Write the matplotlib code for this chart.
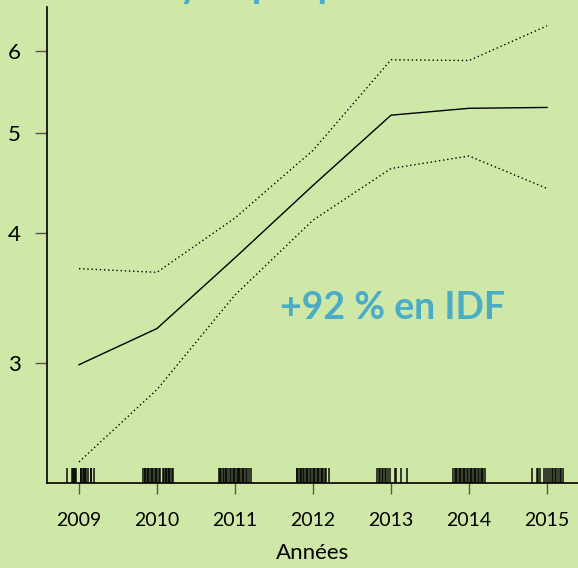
import numpy as np
import matplotlib
matplotlib.use("Agg")
import matplotlib.pyplot as plt
import matplotlib.ticker as mticker

# --- Données ---
annees = [2009, 2010, 2011, 2012, 2013, 2014, 2015]
moyenne = [2.99, 3.24, 3.79, 4.45, 5.20, 5.28, 5.29]
borne_haute = [3.70, 3.67, 4.14, 4.81, 5.88, 5.87, 6.34]
borne_basse = [2.41, 2.83, 3.49, 4.12, 4.62, 4.75, 4.42]

y_ticks = [3, 4, 5, 6]
annotation = "+92 % en IDF"
titre = "Prix moyen par pièce"

# --- Observations (rug), décalage dans l'année ---
rug_2009 = [-0.15, -0.09, -0.08, -0.06, -0.05, -0.04, 0.02, 0.03, 0.05, 0.06,
            0.08, 0.09, 0.12, 0.15, 0.16, 0.19]
rug_2010 = [-0.18, -0.16, -0.15, -0.13, -0.12, -0.10, -0.08, -0.07, -0.05, -0.03,
            -0.01, 0.0, 0.03, 0.04, 0.08, 0.09, 0.11, 0.12, 0.14, 0.15, 0.17, 0.19, 0.20]
rug_2011 = [-0.21, -0.19, -0.18, -0.16, -0.14, -0.12, -0.11, -0.09, -0.07, -0.05,
            -0.03, -0.01, 0.0, 0.02, 0.04, 0.05, 0.07, 0.09, 0.10, 0.12, 0.14,
            0.16, 0.18, 0.20]
rug_2012 = [-0.21, -0.20, -0.18, -0.16, -0.15, -0.13, -0.11, -0.09, -0.08, -0.06,
            -0.04, -0.02, 0.0, 0.01, 0.03, 0.05, 0.06, 0.08, 0.10, 0.12, 0.13,
            0.15, 0.17, 0.20]
rug_2013 = [-0.18, -0.16, -0.14, -0.11, -0.10, -0.08, -0.06, -0.04, -0.01, 0.05,
            0.07, 0.13, 0.21]
rug_2014 = [-0.20, -0.18, -0.17, -0.15, -0.13, -0.12, -0.10, -0.08, -0.06, -0.05,
            -0.03, -0.01, 0.01, 0.02, 0.04, 0.06, 0.08, 0.09, 0.11, 0.13, 0.15,
            0.17, 0.18, 0.20]
rug_2015 = [-0.19, -0.13, -0.11, -0.09, -0.04, -0.01, 0.01, 0.04, 0.06, 0.08,
            0.10, 0.12, 0.14, 0.16, 0.18, 0.20]
rugs = [rug_2009, rug_2010, rug_2011, rug_2012, rug_2013, rug_2014, rug_2015]

fond = "#cfe8a7"
bleu = "#4bacc6"
police = ["Lato", "DejaVu Sans"]

fig = plt.figure(figsize=(5.78, 5.68), dpi=100, facecolor=fond)
ax = fig.add_axes([0.0813, 0.1496, 1 - 0.0813, 0.9877 - 0.1496])
ax.set_facecolor(fond)

ax.set_yscale("log")
ax.set_xlim(2008.59, 2015.397)
ax.set_ylim(2.30, 6.61)

ax.plot(annees, moyenne, color="black", lw=1.0)
ax.plot(annees, borne_haute, color="black", lw=1.0, linestyle=(0, (1, 2)))
ax.plot(annees, borne_basse, color="black", lw=1.0, linestyle=(0, (1, 2)))

# rug
for an, decal in zip(annees, rugs):
    pos = [an + d for d in decal]
    ax.vlines(pos, 0, 0.0315, transform=ax.get_xaxis_transform(),
              color="black", lw=1.3, alpha=0.8)

for s in ["top", "right"]:
    ax.spines[s].set_visible(False)
for s in ["left", "bottom"]:
    ax.spines[s].set_color("black")
    ax.spines[s].set_linewidth(1.2)

ax.yaxis.set_major_locator(mticker.FixedLocator(y_ticks))
ax.yaxis.set_minor_locator(mticker.NullLocator())
ax.yaxis.set_major_formatter(mticker.FixedFormatter([str(v) for v in y_ticks]))
ax.set_xticks(annees)
ax.set_xticklabels([str(a) for a in annees])

ax.tick_params(axis="y", length=9, width=1, color="#555555", pad=10,
               labelsize=16)
ax.tick_params(axis="x", length=8, width=1, color="#555555", pad=13,
               labelsize=14)
for lab in ax.get_xticklabels() + ax.get_yticklabels():
    lab.set_family(police)

fig.text(313 / 578, 1 - 553 / 568, "Années", ha="center", va="center",
         fontsize=16, family=police)

ax.text(392.5 / 578, 1 - 308 / 568, annotation, transform=fig.transFigure,
        ha="center", va="center", color=bleu, fontsize=27,
        fontweight="bold", family=police)

fig.text(0.08, 1.004, titre, ha="left", va="baseline", color=bleu,
         fontsize=28, fontweight="bold", family=police)

fig.savefig("out.png", dpi=100, facecolor=fond)
